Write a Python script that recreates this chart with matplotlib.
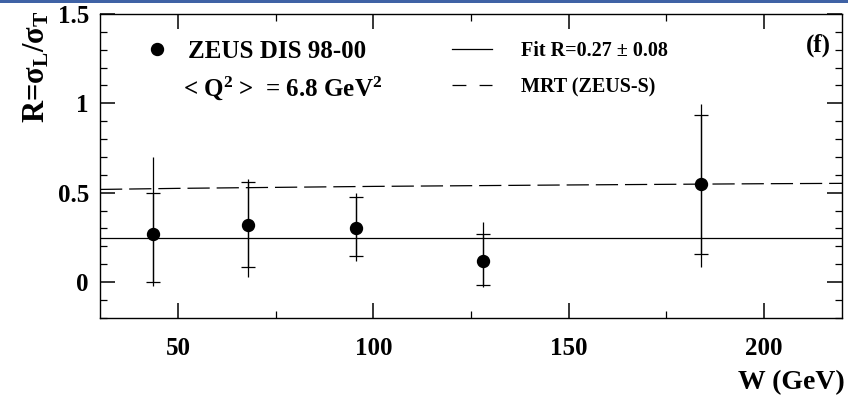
import matplotlib
matplotlib.use('Agg')
import matplotlib.pyplot as plt
from matplotlib.lines import Line2D
from matplotlib.ticker import MultipleLocator
import numpy as np

plt.rcParams['font.family'] = ['Liberation Serif', 'DejaVu Serif']
plt.rcParams['font.weight'] = 'bold'
plt.rcParams['axes.labelweight'] = 'bold'
plt.rcParams['mathtext.fontset'] = 'custom'
plt.rcParams['mathtext.rm'] = 'Liberation Serif:bold'
plt.rcParams['mathtext.it'] = 'Liberation Serif:bold'
plt.rcParams['mathtext.bf'] = 'Liberation Serif:bold'
plt.rcParams['mathtext.default'] = 'rm'
plt.rcParams['lines.scale_dashes'] = False

# ZEUS points, W in GeV
w = np.array([43.5, 68.0, 95.5, 128.0, 184.0])
r = np.array([0.27, 0.32, 0.30, 0.12, 0.55])
# bounds of stat (inner, with ticks) and total (outer) errors
stat_lo = np.array([0.00, 0.084, 0.144, -0.018, 0.154])
stat_hi = np.array([0.50, 0.557, 0.476, 0.266, 0.934])
tot_lo = np.array([-0.02, 0.028, 0.120, -0.028, 0.084])
tot_hi = np.array([0.70, 0.576, 0.499, 0.333, 0.994])

fit_r = 0.245
mrt_w = [30, 50, 100, 150, 200, 220]
mrt_r = [0.518, 0.524, 0.535, 0.543, 0.550, 0.552]

fig = plt.figure(figsize=(8.48, 4.05), dpi=100)
ax = fig.add_axes([100/848, 1-317.7/405, 742/848, 303.7/405])

# blue strip on top of the slide
fig.add_artist(plt.Rectangle((0, 1-2.5/405), 1, 2.5/405, transform=fig.transFigure,
                             color='#3f62a5', lw=0))

ax.axhline(fit_r, color='black', lw=0.9)
ax.plot(mrt_w, mrt_r, color='black', lw=0.9, dashes=(16, 5))

ax.errorbar(w, r, yerr=[r-tot_lo, tot_hi-r], fmt='none', ecolor='black', elinewidth=0.9)
ax.errorbar(w, r, yerr=[r-stat_lo, stat_hi-r], fmt='none', ecolor='black', elinewidth=0.9,
            capsize=4.7, capthick=0.9)
pts, = ax.plot(w, r, 'o', color='black', ms=8.6, zorder=5)

ax.set_xlim(30, 220)
ax.set_ylim(-0.2, 1.5)
ax.xaxis.set_major_locator(MultipleLocator(50))
ax.xaxis.set_minor_locator(MultipleLocator(25))
ax.yaxis.set_major_locator(MultipleLocator(0.5))
ax.yaxis.set_minor_locator(MultipleLocator(0.1))
ax.set_yticks([0, 0.5, 1, 1.5])
ax.set_yticklabels(['0', '0.5', '1', '1.5'])
ax.tick_params(which='both', direction='in', top=True, right=True, labelsize=18)
ax.tick_params(which='major', length=11, width=1.1)
ax.tick_params(which='minor', length=5, width=0.9)
ax.tick_params(axis='x', pad=14)
ax.tick_params(axis='y', pad=8)
for s in ax.spines.values():
    s.set_linewidth(1.0)

ax.set_xlabel('W (GeV)', fontsize=20, loc='right')
ax.xaxis.set_label_coords(1.004, -0.172)
ax.set_ylabel(r'R=$\sigma_L/\sigma_T$', fontsize=22)
ax.yaxis.set_label_coords(-0.066, 0.825)

leg1 = ax.legend([pts], ['ZEUS DIS 98-00'], loc='center left', bbox_to_anchor=(0.06, 0.878),
                 frameon=False, fontsize=18, handlelength=1.0, handletextpad=0.74,
                 borderpad=0, borderaxespad=0)
ax.add_artist(leg1)
ax.text(0.112, 0.756, r'< Q$^2$ >  = 6.8 GeV$^2$', transform=ax.transAxes,
        fontsize=18, ha='left', va='center')

fit_h = Line2D([], [], color='black', lw=0.9)
mrt_h = Line2D([], [], color='black', lw=0.9, dashes=(10, 9.5))
ax.legend([fit_h, mrt_h], ['Fit R=0.27 ± 0.08', 'MRT (ZEUS-S)'], loc='center left',
          bbox_to_anchor=(0.474, 0.819), frameon=False, fontsize=14.5, handlelength=2.0,
          handletextpad=1.44, labelspacing=0.8, borderpad=0, borderaxespad=0)

ax.text(0.9677, 0.898, '(f)', transform=ax.transAxes, fontsize=18, ha='center', va='center')

fig.savefig('out.png', dpi=100)
